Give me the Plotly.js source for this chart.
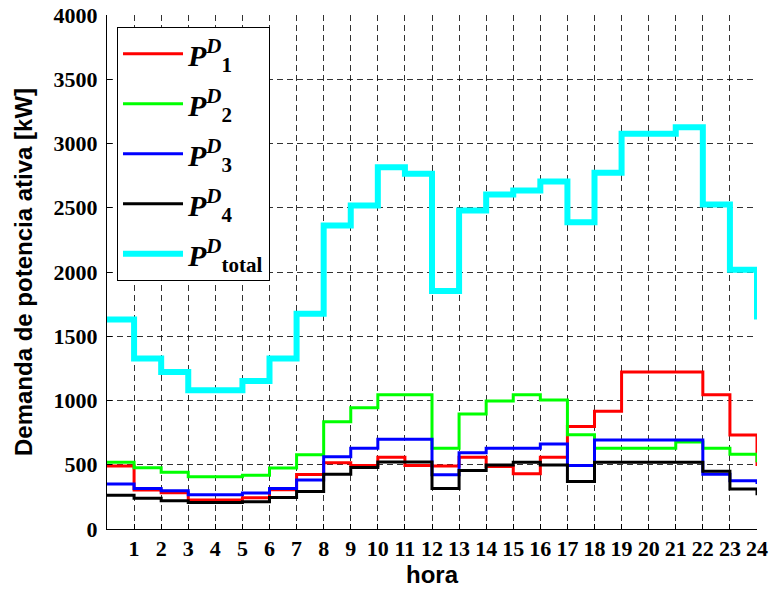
<!DOCTYPE html>
<html>
<head>
<meta charset="utf-8">
<script src="https://cdn.plot.ly/plotly-3.0.1.min.js"></script>
<style>html,body{margin:0;padding:0;background:#fff;}#chart{width:774px;height:592px;}</style>
</head>
<body>
<div id="chart"></div>
<script>
// hours 0..24 (value at 24 closes the last step)
var hours = [0,1,2,3,4,5,6,7,8,9,10,11,12,13,14,15,16,17,18,19,20,21,22,23,24];
var p1 = [490,303,283,225,225,244,305,425,515,495,558,495,490,558,486,429,558,798,917,1222,1222,1222,1044,731,490];
var p2 = [519,477,441,407,407,418,475,578,835,943,1044,1044,628,894,997,1044,1003,734,628,628,628,677,628,582,519];
var p3 = [350,316,298,266,266,281,315,381,562,628,698,698,423,594,628,628,661,494,693,693,693,693,427,376,350];
var p4 = [263,240,219,207,207,212,245,291,427,478,522,522,315,455,499,519,499,370,519,519,519,519,450,311,263];
var ptotal = [1630,1326,1222,1080,1080,1152,1326,1676,2362,2518,2816,2764,1852,2479,2603,2634,2704,2388,2772,3075,3075,3127,2526,2018,1630];
var xTickVals = [1,2,3,4,5,6,7,8,9,10,11,12,13,14,15,16,17,18,19,20,21,22,23,24];
var xTickText = ['1','2','3','4','5','6','7','8','9','10','11','12','13','14','15','16','17','18','19','20','21','22','23','24'];
var yTickVals = [0,500,1000,1500,2000,2500,3000,3500,4000];
var yTickText = ['0','500','1000','1500','2000','2500','3000','3500','4000'];
var names = [
  '<b><i>P</i></b><sup><b><i>D</i></b></sup><sub><b>1</b></sub>',
  '<b><i>P</i></b><sup><b><i>D</i></b></sup><sub><b>2</b></sub>',
  '<b><i>P</i></b><sup><b><i>D</i></b></sup><sub><b>3</b></sub>',
  '<b><i>P</i></b><sup><b><i>D</i></b></sup><sub><b>4</b></sub>',
  '<b><i>P</i></b><sup><b><i>D</i></b></sup><sub><b>total</b></sub>'
];
var series = [p1,p2,p3,p4,ptotal];
var colors = ['#ff0000','#00ff00','#0000ff','#000000','#00ffff'];
var widths = [3,3,3,3,6];

var traces = series.map(function(s,i){
  return {x:hours, y:s, type:'scatter', mode:'lines', name:names[i], legendgroup:'g'+i,
          line:{shape:'hv', color:colors[i], width:widths[i]}};
});

var tickFont = {family:'Liberation Serif, Times New Roman, serif', size:22, color:'#000', weight:'bold'};
var titleFont = {family:'Liberation Sans, Arial, sans-serif', size:24, color:'#000', weight:'bold'};
var axisCommon = {
  showgrid:true, gridcolor:'#000', gridwidth:0.8, griddash:'6px,4px',
  showline:true, linecolor:'#000', linewidth:1, mirror:false,
  ticks:'inside', ticklen:5, tickcolor:'#000', tickwidth:1,
  zeroline:false, tickfont:tickFont, fixedrange:true
};
var layout = {
  width:774, height:592,
  margin:{l:107, r:17, t:15, b:63},
  paper_bgcolor:'#fff', plot_bgcolor:'#fff',
  showlegend:true,
  xaxis:Object.assign({}, axisCommon, {range:[0,24], tickmode:'array', tickvals:xTickVals, ticktext:xTickText, tickangle:0,
    title:{text:'hora', font:titleFont, standoff:5}}),
  yaxis:Object.assign({}, axisCommon, {range:[0,4000], tickmode:'array', tickvals:yTickVals, ticktext:yTickText,
    ticklabelstandoff:4, title:{text:'Demanda de potencia ativa [kW]', font:titleFont, standoff:14}}),
  legend:{x:0.0154, y:0.977, xanchor:'left', yanchor:'top', bgcolor:'#fff', bordercolor:'#000', borderwidth:1,
    font:{family:'Liberation Serif, Times New Roman, serif', size:30, color:'#000'},
    itemwidth:60, tracegroupgap:8, traceorder:'grouped'}
};
Plotly.newPlot('chart', traces, layout, {displayModeBar:false, staticPlot:true});
</script>
</body>
</html>
